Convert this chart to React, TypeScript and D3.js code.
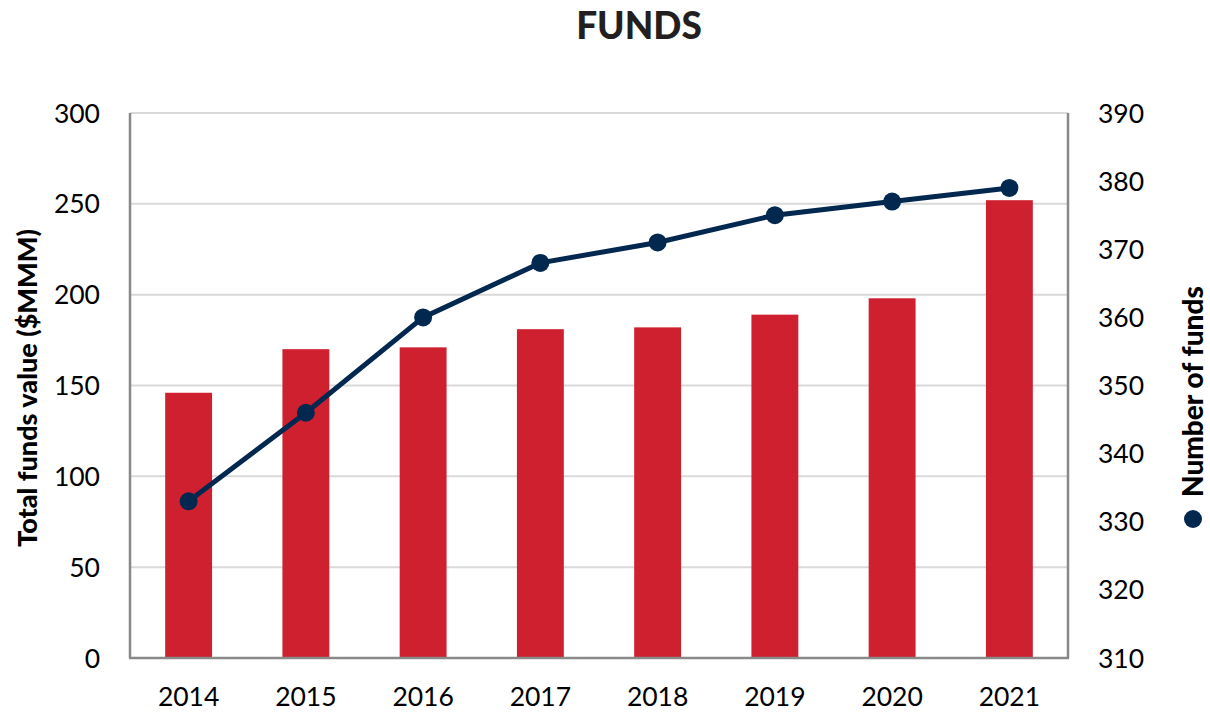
import React from "react";
import * as d3 from "d3";

const years = ["2014", "2015", "2016", "2017", "2018", "2019", "2020", "2021"];
const totalValue = [146, 170, 171, 181, 182, 189, 198, 252];
const numFunds = [333, 346, 360, 368, 371, 375, 377, 379];
const leftTicks = [0, 50, 100, 150, 200, 250, 300];
const rightTicks = [310, 320, 330, 340, 350, 360, 370, 380, 390];

const W = 1210;
const H = 713;
const M = { left: 130, right: 1068, top: 113, bottom: 658 };
const FONT = "Lato, 'Open Sans', sans-serif";

export default function App() {
  const x = d3.scaleBand().domain(years).range([M.left, M.right]).paddingInner(0.6).paddingOuter(0.3);
  const xc = (d: string) => (x(d) as number) + x.bandwidth() / 2;
  const yL = d3.scaleLinear().domain([0, 300]).range([M.bottom, M.top]);
  const yR = d3.scaleLinear().domain([310, 390]).range([M.bottom, M.top]);
  const line = d3
    .line<number>()
    .x((_, i) => xc(years[i]))
    .y((d) => yR(d));

  return (
    <svg
      width={W}
      height={H}
      style={{ position: "absolute", left: 0, top: 0, background: "#fff" }}
      fontFamily={FONT}
    >
      <text x={639} y={39} textAnchor="middle" fontSize={37} fontWeight={900} fill="#231f20">
        FUNDS
      </text>
      {leftTicks.slice(1).map((t) => (
        <line key={t} x1={M.left} x2={M.right} y1={yL(t)} y2={yL(t)} stroke="#d9d9d9" strokeWidth={2} />
      ))}
      {years.map((yr, i) => (
        <rect
          key={yr}
          x={x(yr)}
          y={yL(totalValue[i])}
          width={x.bandwidth()}
          height={M.bottom - yL(totalValue[i])}
          fill="#cf202f"
        />
      ))}
      <path d={line(numFunds) || ""} fill="none" stroke="#022850" strokeWidth={5} />
      {numFunds.map((v, i) => (
        <circle key={i} cx={xc(years[i])} cy={yR(v)} r={9} fill="#022850" />
      ))}
      <line x1={M.left} x2={M.left} y1={M.top} y2={M.bottom} stroke="#898989" strokeWidth={2.5} />
      <line x1={M.right} x2={M.right} y1={M.top} y2={M.bottom} stroke="#898989" strokeWidth={2.5} />
      <line x1={M.left - 1} x2={M.right + 1} y1={M.bottom} y2={M.bottom} stroke="#898989" strokeWidth={2.5} />
      {leftTicks.map((t) => (
        <text key={t} x={100} y={yL(t)} dy="0.36em" textAnchor="end" fontSize={26.5} fill="#000">
          {t}
        </text>
      ))}
      {rightTicks.map((t) => (
        <text key={t} x={1098} y={yR(t)} dy="0.36em" textAnchor="start" fontSize={26.5} fill="#000">
          {t}
        </text>
      ))}
      {years.map((yr) => (
        <text key={yr} x={xc(yr)} y={706} textAnchor="middle" fontSize={26.5} fill="#000">
          {yr}
        </text>
      ))}
      <text
        transform={`translate(37,388) rotate(-90)`}
        textAnchor="middle"
        fontSize={27}
        fontWeight={900}
        fill="#000"
      >
        Total funds value ($MMM)
      </text>
      <circle cx={1193} cy={519} r={9} fill="#022850" />
      <text
        transform={`translate(1203,497) rotate(-90)`}
        textAnchor="start"
        fontSize={28}
        fontWeight={900}
        fill="#000"
      >
        Number of funds
      </text>
    </svg>
  );
}
